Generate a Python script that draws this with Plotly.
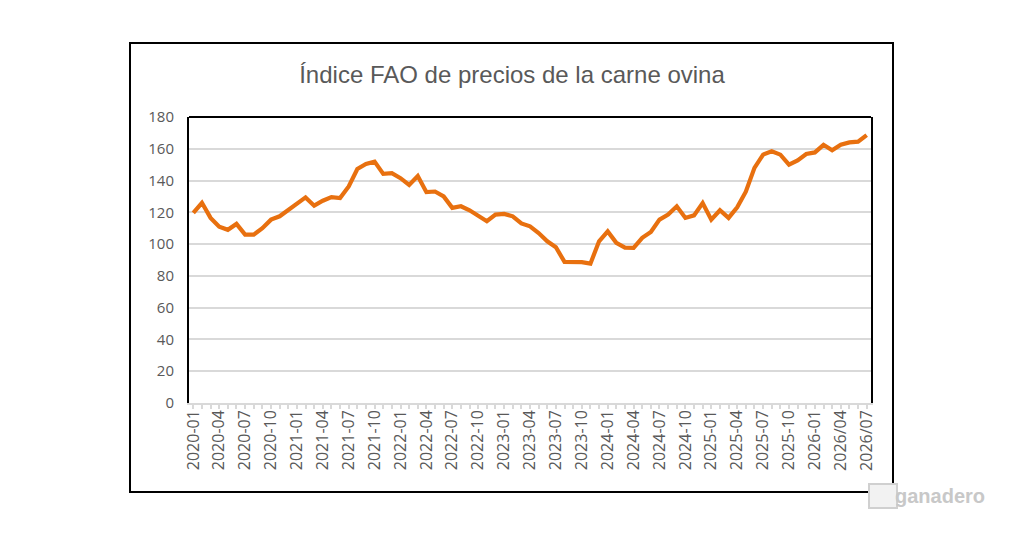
import plotly.graph_objects as go

# meses 2020-01 .. 2026-07 (las ultimas etiquetas vienen con barra en el original)
months = []
for yr in range(2020, 2027):
    for m in range(1, 13):
        if yr == 2026 and m > 7:
            break
        sep = "/" if (yr == 2026 and m >= 4) else "-"
        months.append(f"{yr}{sep}{m:02d}")

precio = [
    119.6, 126.0, 116.5, 111.0, 109.0, 112.7, 106.0, 106.0, 110.0, 115.4, 117.5, 121.7,
    125.6, 129.4, 124.2, 127.3, 129.6, 129.0, 136.3, 147.3, 150.4, 151.9, 144.2, 144.6,
    141.5, 137.3, 142.9, 132.7, 133.1, 130.0, 122.8, 123.8, 121.3, 117.5, 114.4, 118.6,
    119.0, 117.5, 113.0, 111.2, 107.0, 101.8, 98.0, 88.8, 88.8, 88.7, 87.7, 101.8,
    108.0, 100.8, 97.8, 97.7, 104.0, 107.6, 115.4, 118.6, 123.8, 116.5, 118.1, 125.9,
    115.4, 121.3, 116.5, 123.2, 133.0, 148.0, 156.3, 158.4, 156.3, 150.0, 152.7, 156.7,
    157.7, 162.5, 159.0, 162.5, 164.0, 164.5, 168.6,
]

# solo se rotula cada tres meses
tick_text = [lbl if i % 3 == 0 else "" for i, lbl in enumerate(months)]

titulo = "Índice FAO de precios de la carne ovina"
gris = "#595959"

fig = go.Figure()
fig.add_trace(go.Scatter(
    x=months, y=precio, mode="lines",
    line=dict(color="#E8700F", width=4.2),
    hoverinfo="x+y", showlegend=False,
))

fig.update_layout(
    width=1024, height=535,
    margin=dict(l=189, r=153, t=117, b=132),
    paper_bgcolor="white", plot_bgcolor="white",
    title=dict(text=titulo, xref="container", x=0.5, xanchor="center",
               yref="container", y=1 - 75 / 535, yanchor="middle",
               font=dict(family="Liberation Sans", size=24, color=gris)),
    font=dict(family="Open Sans, Liberation Sans", color=gris, size=15),
)

fig.update_xaxes(
    type="category", range=[-0.5, len(months) - 0.5],
    tickmode="array", tickvals=months, ticktext=tick_text,
    tickangle=-90, tickfont=dict(size=16, color=gris),
    ticks="outside", ticklen=4, tickcolor="#d9d9d9", tickwidth=1.5,
    ticklabelstandoff=-5,
    showline=True, linecolor="#d9d9d9", linewidth=1.5,
    showgrid=False, zeroline=False,
)
fig.update_yaxes(
    range=[0, 180], dtick=20, tickfont=dict(size=15, color=gris),
    showgrid=True, gridcolor="#d9d9d9", gridwidth=1.5,
    showline=True, linecolor="black", linewidth=2, mirror=True,
    zeroline=False, ticks="", ticklabelstandoff=10,
)

# borde superior del area de trazado
fig.add_shape(type="line", xref="paper", yref="paper", x0=0, x1=1, y0=1, y1=1,
              line=dict(color="black", width=2))
# marco exterior del grafico
fig.add_shape(type="rect", xref="paper", yref="paper",
              x0=(130 - 189) / 682, x1=(893 - 189) / 682,
              y0=(403 - 492) / 286, y1=(403 - 43) / 286,
              line=dict(color="black", width=2))

# marca de agua (icono + texto)
fig.add_shape(type="rect", xref="paper", yref="paper",
              x0=(869 - 189) / 682, x1=(897 - 189) / 682,
              y0=(403 - 508) / 286, y1=(403 - 484) / 286,
              line=dict(color="#d0d0d0", width=2), fillcolor="#f2f2f2")
fig.add_annotation(text="<b>ganadero</b>", xref="paper", yref="paper",
                   x=(940 - 189) / 682, y=(403 - 496) / 286, showarrow=False,
                   xanchor="center", yanchor="middle",
                   font=dict(family="Liberation Sans Narrow, Liberation Sans", size=20, color="#c8c8c8"))

fig.write_html("out.html", config={"displayModeBar": False},
               post_script="document.body.style.margin='0';")
